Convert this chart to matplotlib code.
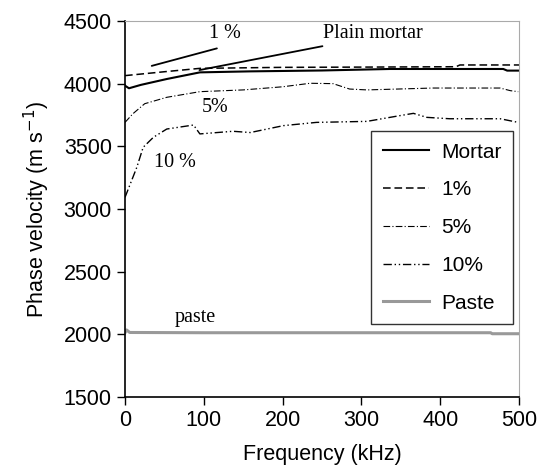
import matplotlib
matplotlib.use("Agg")
import matplotlib.pyplot as plt

# Data
mortar_f = [0, 5, 20, 53, 95, 159, 250, 336, 460, 480, 485, 500]
mortar_v = [3984, 3963, 3990, 4037, 4090, 4098, 4105, 4117, 4117, 4117, 4104, 4104]

p1_f = [0, 50, 95, 200, 300, 420, 425, 500]
p1_v = [4064, 4095, 4122, 4130, 4132, 4135, 4149, 4149]

p5_f = [0, 10, 25, 53, 95, 150, 200, 235, 264, 285, 307, 391, 476, 489, 499]
p5_v = [3691, 3760, 3840, 3891, 3936, 3950, 3975, 4003, 4000, 3957, 3950, 3965, 3965, 3944, 3936]

p10_f = [0, 5, 15, 23, 36, 53, 87, 95, 137, 159, 201, 243, 307, 349, 366, 383, 412, 476, 499]
p10_v = [3093, 3173, 3333, 3492, 3572, 3638, 3670, 3599, 3620, 3610, 3665, 3691, 3699, 3745, 3763, 3731, 3720, 3720, 3691]

paste_f = [0, 2, 6, 100, 300, 464, 466, 500]
paste_v = [2013, 2035, 2015, 2013, 2013, 2013, 2005, 2005]

series_labels = ["Mortar", "1%", "5%", "10%", "Paste"]
xticks = [0, 100, 200, 300, 400, 500]
yticks = [1500, 2000, 2500, 3000, 3500, 4000, 4500]

plt.rcParams['font.family'] = ['Liberation Sans', 'DejaVu Sans']

fig = plt.figure(figsize=(5.37, 4.66), dpi=100)
ax = fig.add_axes([0.2328, 0.148, 0.7337, 0.807])

ax.plot(mortar_f, mortar_v, color='black', lw=1.5, ls='-', label=series_labels[0])
ax.plot(p1_f, p1_v, color='black', lw=1.1, ls=(0, (5, 2.5)), label=series_labels[1])
ax.plot(p5_f, p5_v, color='black', lw=0.8, ls=(0, (6, 2, 1, 2)), label=series_labels[2])
ax.plot(p10_f, p10_v, color='black', lw=1.0, ls=(0, (6, 2, 1, 2, 1, 2)), label=series_labels[3])
ax.plot(paste_f, paste_v, color='#999999', lw=2.2, ls='-', label=series_labels[4])

ax.set_xlim(0, 500)
ax.set_ylim(1500, 4500)
ax.set_xticks(xticks)
ax.set_yticks(yticks)
ax.tick_params(direction='out', length=6, labelsize=15.5, width=1)
for s in ['top', 'right']:
    ax.spines[s].set_color('#aaaaaa')
for s in ['left', 'bottom']:
    ax.spines[s].set_linewidth(1.2)

ax.set_xlabel("Frequency (kHz)", fontsize=15.5, labelpad=9)
ax.set_ylabel(r"Phase velocity (m s$^{-1}$)", fontsize=15.5, labelpad=8)

leg = ax.legend(loc='upper right', bbox_to_anchor=(0.985, 0.707), borderaxespad=0,
                fontsize=15, frameon=True, fancybox=False, edgecolor='black',
                handlelength=2.2, handletextpad=0.6, labelspacing=0.9, borderpad=0.55)
leg.get_frame().set_linewidth(1.0)

serif = ['Liberation Serif', 'DejaVu Serif']
fs = 14.5
ax.annotate("", xy=(30.5, 4136), xytext=(120, 4287),
            arrowprops=dict(arrowstyle='-', color='black', lw=1.3))
ax.text(127, 4399, "1 %", family=serif, fontsize=fs, ha='center', va='center')
ax.annotate("", xy=(91, 4104), xytext=(254, 4303),
            arrowprops=dict(arrowstyle='-', color='black', lw=1.3))
ax.text(315, 4399, "Plain mortar", family=serif, fontsize=fs, ha='center', va='center')
ax.text(114, 3809, "5%", family=serif, fontsize=fs, ha='center', va='center')
ax.text(63, 3370, "10 %", family=serif, fontsize=fs, ha='center', va='center')
ax.text(89, 2136, "paste", family=serif, fontsize=fs, ha='center', va='center')

fig.savefig("out.png", dpi=100)
